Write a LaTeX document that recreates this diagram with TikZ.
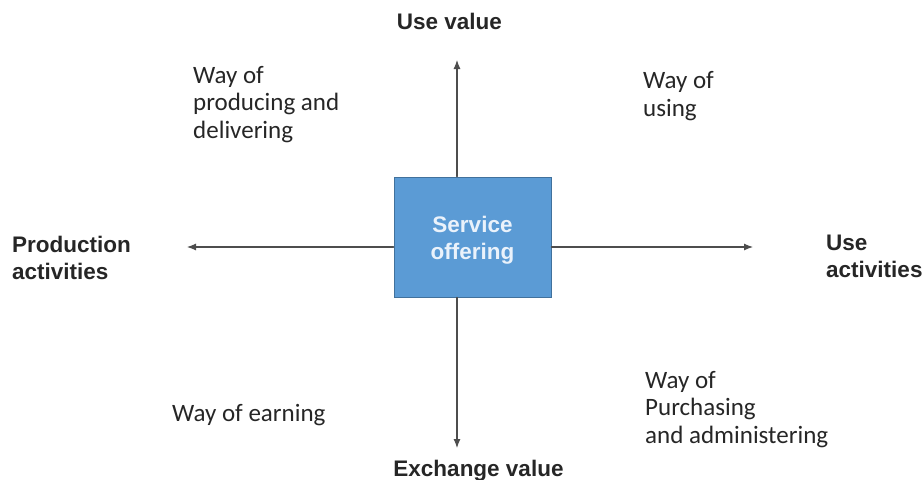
\documentclass[tikz,border=0pt]{standalone}
\usepackage{fontspec}
\setmainfont{Carlito}
\newfontfamily\arialfont{Liberation Sans}
\usetikzlibrary{arrows.meta}
\definecolor{offerblue}{HTML}{5B9BD5}
\definecolor{offeredge}{HTML}{41719C}
\definecolor{offertext}{HTML}{EAF2FB}
\definecolor{inkgrey}{HTML}{262626}
\definecolor{axisgrey}{HTML}{4D4D4D}
\tikzset{
  axislabel/.style={font=\arialfont\bfseries\fontsize{22.5}{27}\selectfont, text=inkgrey, inner sep=0pt, align=left},
  waytext/.style={font=\fontsize{25}{27.5}\selectfont, text=inkgrey, inner sep=0pt, align=left, anchor=base west},
  axisarrow/.style={->, line width=1.1pt, draw=axisgrey}
}
\begin{document}
\begin{tikzpicture}[x=1pt, y=-1pt, >={Latex[length=9pt,width=7pt]}, line cap=round]
  \useasboundingbox (0,0) rectangle (923,479);
  % --- central box ---
  \node[draw=offeredge, fill=offerblue, line width=0.8pt, minimum width=157pt, minimum height=120pt] (offer) at (472.5,237) {};
  \node[font=\arialfont\bfseries\fontsize{22.5}{27}\selectfont, text=offertext, align=center, inner sep=0pt]
        (offerlabel) at (472.5,240) {Service\\offering};
  % --- arrow ends ---
  \coordinate (upend) at (457,60);
  \coordinate (downend) at (457,448);
  \coordinate (leftend) at (187,247);
  \coordinate (rightend) at (753,247);
  \draw[axisarrow] (offer.north -| upend) -- (upend);
  \draw[axisarrow] (offer.south -| downend) -- (downend);
  \draw[axisarrow] (offer.west |- leftend) -- (leftend);
  \draw[axisarrow] (offer.east |- rightend) -- (rightend);
  % --- axis labels (base = last line) ---
  \node[axislabel, anchor=base] (usevalue) at (449.5,29) {Use value};
  \node[axislabel, anchor=base] (exchvalue) at (478.5,476) {Exchange value};
  \node[axislabel, anchor=base west] (prodact) at (12,279) {Production\\activities};
  \node[axislabel, anchor=base west] (useact) at (826,277) {Use\\activities};
  % --- quadrant texts ---
  \node[waytext] (producing) at (193,138) {Way of\\producing and\\delivering};
  \node[waytext] (using) at (643,116) {Way of\\using};
  \node[waytext] (earning) at (172,421) {Way of earning};
  \node[waytext] (purchasing) at (645,443) {Way of\\Purchasing\\and administering};
\end{tikzpicture}
\end{document}
